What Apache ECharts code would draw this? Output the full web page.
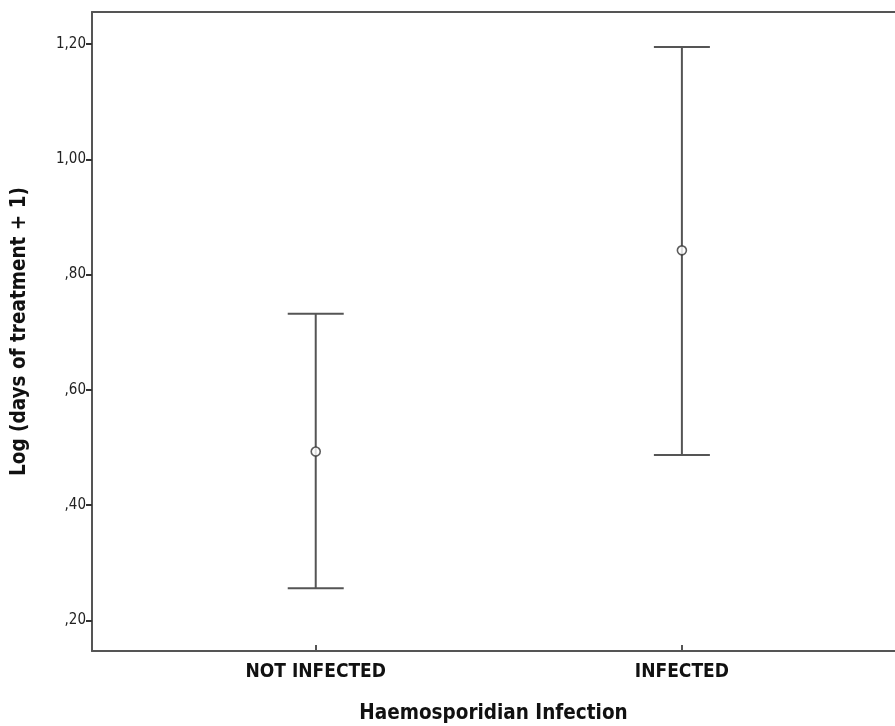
<!DOCTYPE html>
<html>
<head>
<meta charset="utf-8">
<script src="https://cdn.jsdelivr.net/npm/echarts@6/dist/echarts.min.js"></script>
<style>html,body{margin:0;padding:0;background:#fff}#c{width:895px;height:726px}</style>
</head>
<body>
<div id="c"></div>
<script>
var categories = ['NOT INFECTED', 'INFECTED'];
var means = [0.493, 0.842];
var lowerCI = [0.256, 0.487];
var upperCI = [0.732, 1.195];
var yTicks = [0.2, 0.4, 0.6, 0.8, 1.0, 1.2];
var xTitle = 'Haemosporidian Infection';
var yTitle = 'Log (days of treatment + 1)';

var chart = echarts.init(document.getElementById('c'));
var lineColor = '#555555';
var font = '"DejaVu Sans Condensed", "DejaVu Sans", sans-serif';

var errData = categories.map(function (c, i) { return [i, lowerCI[i], upperCI[i]]; });
var meanData = categories.map(function (c, i) { return [i, means[i]]; });

function fmtY(v) {
  var s = v.toFixed(2).replace('.', ',');
  if (s.charAt(0) === '0') s = s.slice(1);
  return s;
}

chart.setOption({
  animation: false,
  backgroundColor: '#fff',
  grid: { left: 92, right: 0, top: 12, bottom: 75, containLabel: false, outerBoundsMode: 'none' },
  xAxis: [{
    type: 'value',
    min: -0.611,
    max: 1.582,
    position: 'bottom',
    splitLine: { show: false },
    axisLine: { show: true, onZero: false, lineStyle: { color: lineColor, width: 2 } },
    axisTick: { show: true, inside: true, length: 6, customValues: [0, 1], lineStyle: { color: lineColor, width: 2 } },
    axisLabel: {
      customValues: [0, 1],
      formatter: function (v) { return categories[Math.round(v)] || ''; },
      color: '#111', fontFamily: font, fontWeight: 'bold', fontSize: 19, margin: 12
    },
    name: xTitle,
    nameLocation: 'middle',
    nameGap: 52,
    nameTextStyle: { color: '#111', fontFamily: font, fontWeight: 'bold', fontSize: 20.5 }
  }, {
    type: 'value',
    min: -0.611,
    max: 1.582,
    position: 'top',
    splitLine: { show: false },
    axisLine: { show: true, onZero: false, lineStyle: { color: lineColor, width: 2 } },
    axisTick: { show: false },
    axisLabel: { show: false }
  }],
  yAxis: {
    type: 'value',
    min: 0.147,
    max: 1.2555,
    splitLine: { show: false },
    axisLine: { show: true, onZero: false, lineStyle: { color: lineColor, width: 2 } },
    axisTick: { show: true, length: 6, customValues: yTicks, lineStyle: { color: '#333', width: 2 } },
    axisLabel: {
      customValues: yTicks,
      formatter: fmtY,
      color: '#222', fontFamily: font, fontSize: 15, margin: 6
    },
    name: yTitle,
    nameLocation: 'middle',
    nameGap: 62,
    nameTextStyle: { color: '#111', fontFamily: font, fontWeight: 'bold', fontSize: 20.5 }
  },
  series: [{
    type: 'custom',
    data: errData,
    renderItem: function (params, api) {
      var x = api.value(0);
      var lo = api.coord([x, api.value(1)]);
      var hi = api.coord([x, api.value(2)]);
      var hw = 28;
      var style = { stroke: lineColor, lineWidth: 2 };
      return {
        type: 'group',
        children: [
          { type: 'line', shape: { x1: lo[0], y1: lo[1], x2: hi[0], y2: hi[1] }, style: style },
          { type: 'line', shape: { x1: hi[0] - hw, y1: hi[1], x2: hi[0] + hw, y2: hi[1] }, style: style },
          { type: 'line', shape: { x1: lo[0] - hw, y1: lo[1], x2: lo[0] + hw, y2: lo[1] }, style: style }
        ]
      };
    },
    z: 2
  }, {
    type: 'scatter',
    data: meanData,
    symbol: 'circle',
    symbolSize: 9,
    itemStyle: { color: '#fff', borderColor: '#333', borderWidth: 1.6 },
    z: 3
  }]
});
</script>
</body>
</html>
